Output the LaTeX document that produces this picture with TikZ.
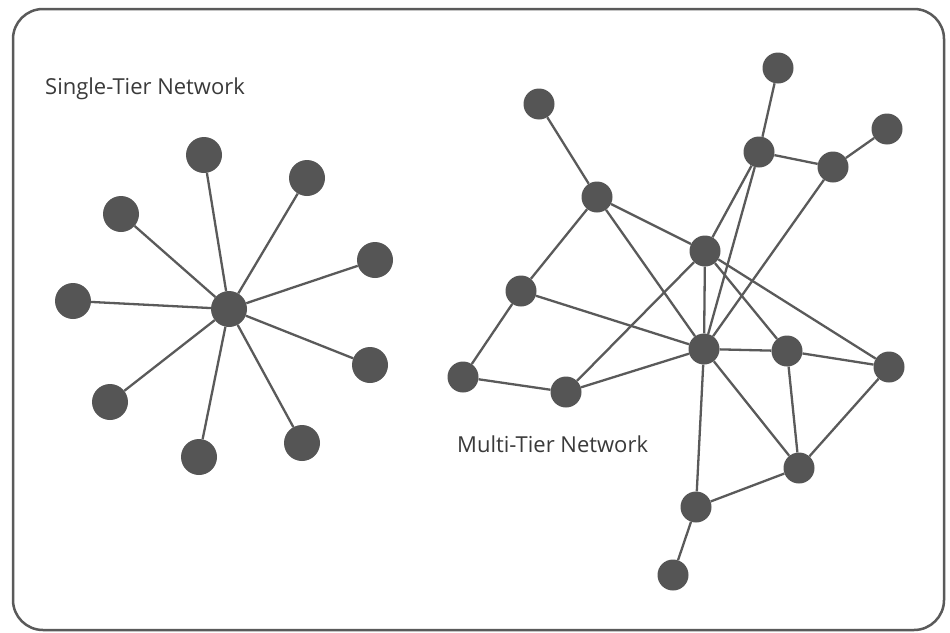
\documentclass[tikz,border=0pt]{standalone}
\usepackage{fontspec}
\setmainfont{Open Sans}
\begin{document}
\begin{tikzpicture}[x=1pt,y=-1pt,
  dot/.style={circle,fill=nodegray,inner sep=0pt,minimum size=36pt},
  sdot/.style={circle,fill=nodegray,inner sep=0pt,minimum size=31pt},
  link/.style={draw=linegray,line width=2.3pt},
  lbl/.style={text=textgray,font=\fontsize{22}{26}\selectfont,anchor=base west,inner sep=0pt}]
\definecolor{nodegray}{HTML}{555555}
\definecolor{linegray}{HTML}{5A5A5A}
\definecolor{textgray}{HTML}{3A3A3A}
\definecolor{framegray}{HTML}{5A5A5A}
\useasboundingbox (0,0) rectangle (950,632);
\fill[white] (0,0) rectangle (950,632);
\draw[draw=framegray,line width=2.5pt,rounded corners=30pt] (13,9) rectangle (944,630);
\node[lbl] (t1) at (45,94) {Single-Tier Network};
\node[lbl] (t2) at (457,452) {Multi-Tier Network};
% single tier
\node[dot] (c) at (229,309) {};
\node[dot] (s1) at (204,155) {};
\node[dot] (s2) at (307,178) {};
\node[dot] (s3) at (121,214) {};
\node[dot] (s4) at (375,260) {};
\node[dot] (s5) at (73,301) {};
\node[dot] (s6) at (370,365) {};
\node[dot] (s7) at (110,402) {};
\node[dot] (s8) at (199,457) {};
\node[dot] (s9) at (302,443) {};
\foreach \s in {s1,s2,s3,s4,s5,s6,s7,s8,s9} \path[link] (c) -- (\s);
% multi tier
\node[sdot] (n1) at (539,104) {};
\node[sdot] (tp) at (778,68) {};
\node[sdot] (rt) at (887,129) {};
\node[sdot] (a) at (759,152) {};
\node[sdot] (b) at (833,167) {};
\node[sdot] (d) at (597,197) {};
\node[sdot] (e) at (705,251) {};
\node[sdot] (f) at (521,291) {};
\node[sdot] (h) at (704,349) {};
\node[sdot] (i) at (787,351) {};
\node[sdot] (j) at (889,367) {};
\node[sdot] (g) at (463,377) {};
\node[sdot] (k) at (566,392) {};
\node[sdot] (l) at (799,468) {};
\node[sdot] (m) at (696,507) {};
\node[sdot] (n) at (673,575) {};
\foreach \u/\v in {n1/d,d/e,d/f,d/h,tp/a,a/b,b/rt,a/e,a/h,b/h,e/h,e/k,e/i,e/j,f/h,f/g,g/k,k/h,h/i,i/j,h/l,i/l,j/l,h/m,m/l,m/n}
  \path[link] (\u) -- (\v);
\end{tikzpicture}
\end{document}
